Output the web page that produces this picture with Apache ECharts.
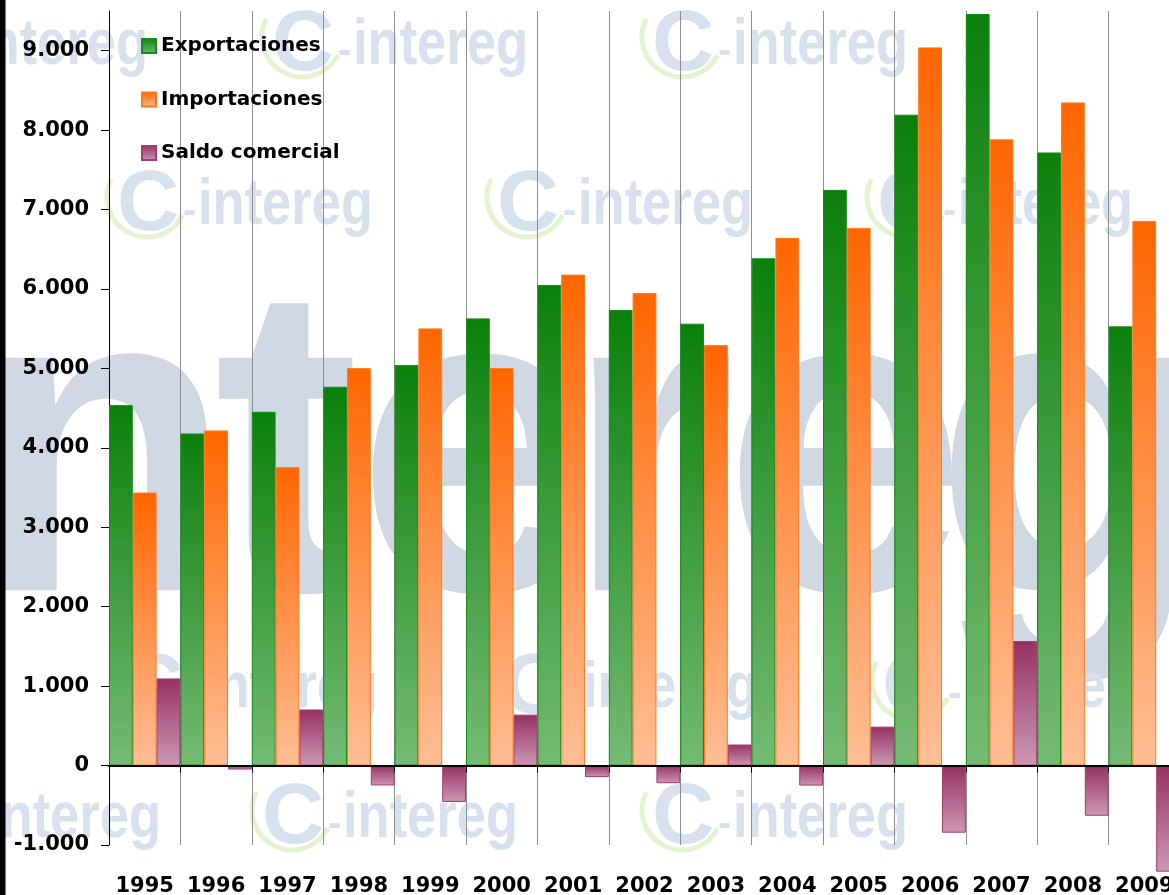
<!DOCTYPE html>
<html>
<head>
<meta charset="utf-8">
<title>Exportaciones, importaciones y saldo comercial 1995-2009</title>
<script src="https://cdn.jsdelivr.net/npm/echarts@6/dist/echarts.min.js"></script>
<style>
  html, body { margin: 0; padding: 0; background: #ffffff; }
  #chart { width: 1169px; height: 895px; }
</style>
</head>
<body>
<div id="chart"></div>
<script>
// Years on the category axis
const years = ['1995', '1996', '1997', '1998', '1999', '2000', '2001', '2002',
               '2003', '2004', '2005', '2006', '2007', '2008', '2009'];

// Yearly values
const exportaciones = [4538, 4181, 4454, 4769, 5042, 5630, 6051, 5736, 5563, 6387, 7248, 8194, 9462, 7719, 5530];
const importaciones = [3437, 4219, 3756, 5004, 5504, 5004, 6181, 5950, 5294, 6643, 6769, 9042, 7884, 8349, 6857];
const saldoComercial = [1097, -50, 706, -250, -458, 641, -145, -222, 265, -252, 490, -845, 1567, -632, -1336];

// Value axis ticks and their printed labels
const yTicks = [-1000, 0, 1000, 2000, 3000, 4000, 5000, 6000, 7000, 8000, 9000];
const yTickLabels = ['-1.000', '0', '1.000', '2.000', '3.000', '4.000', '5.000',
                     '6.000', '7.000', '8.000', '9.000'];

const FONT = '"DejaVu Sans", Verdana, sans-serif';

function vgrad(top, bottom) {
  return {
    type: 'linear', x: 0, y: 0, x2: 0, y2: 1,
    colorStops: [{ offset: 0, color: top }, { offset: 1, color: bottom }]
  };
}

// Background "intereg" watermark: one big word plus a grid of small logos
const bigColor = '#cfd8e3';
const logoColor = '#d8e2ef';
const swooshColor = 'rgba(205, 235, 178, 0.6)';
const bigLetters = [
  { ch: 'n', cx: 100 }, { ch: 't', cx: 287 }, { ch: 'e', cx: 478 },
  { ch: 'r', cx: 650 }, { ch: 'e', cx: 845 }, { ch: 'g', cx: 1068 }
];
// [left of the "C", baseline of "intereg"]
const logoSpots = [
  [-108, 67], [272, 67], [652, 67],
  [117, 227], [497, 227], [877, 227],
  [122, 710], [502, 710], [882, 710],
  [-95, 840], [262, 840], [652, 840]
];

const graphics = [];
bigLetters.forEach(function (l) {
  graphics.push({
    type: 'text', z: -10, x: l.cx, y: 249,
    style: {
      text: l.ch, x: 0, y: 0, align: 'center', verticalAlign: 'top',
      font: 'bold 440px "Liberation Sans", Arial, sans-serif', fill: bigColor
    }
  });
});
logoSpots.forEach(function (p) {
  const x = p[0], y = p[1];
  graphics.push({
    type: 'arc', z: -10,
    shape: { cx: x + 30, cy: y - 30, r: 40, startAngle: Math.PI * 0.15, endAngle: Math.PI * 1.15, clockwise: true },
    style: { stroke: swooshColor, lineWidth: 5, fill: null }
  });
  graphics.push({
    type: 'text', z: -9, x: x, y: y - 64,
    style: {
      text: 'C', x: 0, y: 0, align: 'left', verticalAlign: 'top',
      font: 'bold 86px "Liberation Sans", Arial, sans-serif', fill: logoColor
    }
  });
  graphics.push({
    type: 'text', z: -9, x: x + 66, y: y - 15,
    style: {
      text: '-', x: 0, y: 0, align: 'left', verticalAlign: 'middle',
      font: 'bold 40px "Liberation Sans", Arial, sans-serif', fill: logoColor
    }
  });
  graphics.push({
    type: 'text', z: -9, x: x + 81, y: y - 53, scaleX: 0.82,
    style: {
      text: 'intereg', x: 0, y: 0, align: 'left', verticalAlign: 'top',
      font: 'bold 64px "Liberation Sans", Arial, sans-serif', fill: logoColor
    }
  });
});
// dark strip along the left edge
graphics.push({
  type: 'rect', z: 10, shape: { x: 0, y: 0, width: 5.5, height: 895 },
  style: { fill: '#000000' }
});

const chart = echarts.init(document.getElementById('chart'), null, { renderer: 'canvas' });

chart.setOption({
  animation: false,
  backgroundColor: '#ffffff',
  textStyle: { fontFamily: FONT },
  graphic: { elements: graphics },
  grid: {
    left: 109, top: 11, bottom: 50, right: -11,
    containLabel: false, outerBoundsMode: 'none'
  },
  legend: {
    orient: 'vertical',
    left: 141, top: 36, padding: 0,
    itemWidth: 14, itemHeight: 14, itemGap: 33.5,
    icon: 'rect',
    textStyle: { fontSize: 20, fontWeight: 'bold', color: '#000', fontFamily: FONT, lineHeight: 20 },
    data: ['Exportaciones', 'Importaciones', 'Saldo comercial']
  },
  xAxis: [
    {
      // labels at the bottom and vertical separators between years
      type: 'category', data: years, position: 'bottom',
      axisLine: { show: false, onZero: false },
      axisTick: { show: false },
      axisLabel: {
        interval: 0, margin: 31, fontSize: 21, fontWeight: 'bold',
        color: '#000', fontFamily: FONT
      },
      splitLine: { show: true, interval: 0, lineStyle: { color: '#8e8e8e', width: 1 } }
    },
    {
      // zero line with small downward ticks
      type: 'category', data: years, position: 'bottom', z: 5,
      axisLine: { show: true, onZero: true, lineStyle: { color: '#000', width: 2 } },
      axisTick: { show: true, length: 7, lineStyle: { color: '#000', width: 1 } },
      axisLabel: { show: false },
      splitLine: { show: false }
    }
  ],
  yAxis: {
    type: 'value', min: -1000, max: 9500, interval: 1000,
    axisLine: { show: true, lineStyle: { color: '#000', width: 1 } },
    axisTick: { show: true, length: 8, lineStyle: { color: '#000' }, customValues: yTicks },
    axisLabel: {
      margin: 20, fontSize: 21, fontWeight: 'bold', color: '#000', fontFamily: FONT,
      customValues: yTicks,
      formatter: function (v) {
        const i = yTicks.indexOf(v);
        return i >= 0 ? yTickLabels[i] : '';
      }
    },
    splitLine: { show: false }
  },
  series: [
    {
      name: 'Exportaciones', type: 'bar', data: exportaciones,
      barGap: '0%', barCategoryGap: '0%',
      itemStyle: { color: vgrad('#0a800a', '#74bb74'), borderColor: '#1a8a1a', borderWidth: 1 }
    },
    {
      name: 'Importaciones', type: 'bar', data: importaciones,
      barGap: '0%', barCategoryGap: '0%',
      itemStyle: { color: vgrad('#ff6600', '#ffbe95'), borderColor: '#ff7a1c', borderWidth: 1 }
    },
    {
      name: 'Saldo comercial', type: 'bar', data: saldoComercial,
      barGap: '0%', barCategoryGap: '0%', clip: false,
      itemStyle: { color: vgrad('#963164', '#cc98b4'), borderColor: '#a13c6d', borderWidth: 1 }
    }
  ]
});
</script>
</body>
</html>
